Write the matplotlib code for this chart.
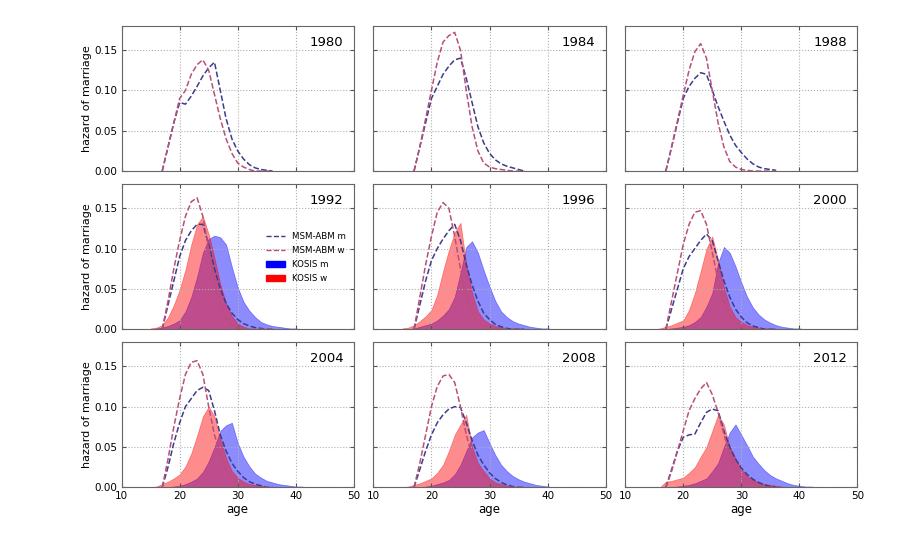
import numpy as np
import matplotlib
matplotlib.use("Agg")
import matplotlib.pyplot as plt
from matplotlib.patches import Patch
from matplotlib.lines import Line2D

years = [1980, 1984, 1988, 1992, 1996, 2000, 2004, 2008, 2012]

# MSM-ABM simulated hazards, ages 17..36
msm_ages = np.arange(17, 37)
msm_m = {
    1980: [0, .03, .06, .085, .083, .093, .105, .118, .128, .135, .1, .065, .04, .025, .015, .008, .004, .002, .001, 0],
    1984: [0, .03, .06, .09, .105, .12, .13, .138, .14, .115, .085, .055, .035, .022, .014, .009, .006, .004, .002, 0],
    1988: [0, .03, .06, .09, .105, .115, .122, .12, .1, .08, .062, .045, .032, .023, .015, .009, .005, .003, .002, .001],
    1992: [0, .03, .06, .09, .11, .122, .13, .13, .105, .075, .05, .032, .02, .012, .007, .004, .002, .001, 0, 0],
    1996: [0, .03, .06, .085, .1, .112, .122, .13, .11, .08, .055, .035, .02, .012, .006, .003, .001, 0, 0, 0],
    2000: [0, .025, .05, .075, .09, .1, .11, .118, .11, .085, .06, .04, .025, .015, .008, .004, .002, 0, 0, 0],
    2004: [0, .025, .055, .08, .1, .11, .12, .124, .12, .095, .065, .045, .03, .02, .012, .007, .004, .002, 0, 0],
    2008: [0, .022, .045, .065, .08, .09, .097, .1, .099, .08, .058, .04, .028, .018, .011, .006, .003, .001, 0, 0],
    2012: [0, .022, .045, .062, .065, .066, .08, .093, .097, .095, .07, .05, .035, .024, .016, .01, .006, .003, .001, 0],
}
msm_w = {
    1980: [0, .03, .06, .09, .1, .12, .132, .138, .125, .095, .065, .04, .022, .01, .005, .002, 0, 0, 0, 0],
    1984: [0, .03, .065, .1, .135, .16, .168, .172, .15, .1, .055, .025, .01, .005, .003, .002, .001, 0, 0, 0],
    1988: [0, .03, .062, .094, .125, .148, .158, .14, .1, .06, .03, .012, .005, .002, .001, 0, 0, 0, 0, 0],
    1992: [0, .035, .075, .11, .14, .158, .163, .14, .1, .06, .03, .012, .005, .002, 0, 0, 0, 0, 0, 0],
    1996: [0, .04, .08, .115, .145, .157, .15, .115, .075, .04, .02, .008, .003, .001, 0, 0, 0, 0, 0, 0],
    2000: [0, .035, .07, .105, .13, .145, .147, .13, .095, .06, .035, .018, .008, .003, .001, 0, 0, 0, 0, 0],
    2004: [0, .035, .075, .11, .14, .155, .157, .14, .1, .065, .04, .022, .012, .006, .003, .001, 0, 0, 0, 0],
    2008: [0, .03, .065, .1, .125, .138, .14, .13, .1, .065, .04, .025, .015, .008, .004, .002, 0, 0, 0, 0],
    2012: [0, .02, .045, .07, .095, .11, .122, .13, .115, .093, .066, .04, .023, .013, .008, .005, .003, .001, 0, 0],
}

# KOSIS observed hazards, ages 15..45 (no data before 1992)
kosis_ages = np.arange(15, 46)
kosis_m = {
    1992: [0, .001, .002, .004, .007, .011, .022, .04, .065, .095, .112, .116, .114, .105, .077, .052, .034, .023, .015, .009, .006, .004, .003, .002, .001, .001, 0, 0, 0, 0, 0],
    1996: [0, 0, .001, .003, .005, .007, .011, .017, .025, .04, .07, .102, .109, .095, .073, .053, .035, .022, .015, .01, .007, .005, .003, .002, .001, .001, 0, 0, 0, 0, 0],
    2000: [0, 0, 0, .001, .002, .003, .005, .009, .015, .028, .045, .082, .102, .095, .078, .058, .04, .027, .018, .012, .008, .005, .003, .002, .001, .001, 0, 0, 0, 0, 0],
    2004: [0, 0, 0, 0, .001, .002, .004, .007, .011, .019, .032, .05, .07, .077, .08, .055, .038, .026, .017, .012, .008, .006, .004, .003, .002, .001, .001, 0, 0, 0, 0],
    2008: [0, 0, 0, 0, .001, .002, .004, .006, .009, .016, .028, .045, .062, .068, .071, .055, .04, .028, .02, .014, .01, .007, .005, .003, .002, .001, 0, 0, 0, 0, 0],
    2012: [0, 0, 0, 0, .001, .002, .003, .005, .008, .011, .02, .03, .05, .068, .078, .065, .052, .038, .029, .021, .015, .011, .008, .005, .003, .002, .001, .001, 0, 0, 0],
}
kosis_w = {
    1992: [.001, .002, .005, .015, .03, .049, .074, .105, .13, .14, .118, .088, .056, .032, .016, .007, .003, .001, 0, 0, 0, 0, 0, 0, 0, 0, 0, 0, 0, 0, 0],
    1996: [.001, .002, .005, .01, .016, .024, .043, .072, .098, .12, .132, .08, .045, .022, .012, .007, .004, .002, .001, 0, 0, 0, 0, 0, 0, 0, 0, 0, 0, 0, 0],
    2000: [0, .001, .003, .005, .008, .011, .024, .045, .072, .1, .115, .085, .052, .028, .015, .009, .005, .003, .002, .001, 0, 0, 0, 0, 0, 0, 0, 0, 0, 0, 0],
    2004: [0, .001, .004, .007, .011, .016, .026, .042, .064, .088, .1, .088, .06, .036, .02, .012, .007, .004, .003, .002, .001, 0, 0, 0, 0, 0, 0, 0, 0, 0, 0],
    2008: [0, .001, .003, .005, .008, .011, .018, .028, .045, .065, .078, .09, .05, .03, .02, .011, .006, .004, .002, .001, 0, 0, 0, 0, 0, 0, 0, 0, 0, 0, 0],
    2012: [0, 0, .007, .008, .01, .012, .018, .025, .038, .05, .07, .09, .078, .05, .036, .022, .014, .009, .006, .004, .003, .002, .001, 0, 0, 0, 0, 0, 0, 0, 0],
}

m_line = '#3c3c8c'
w_line = '#b8507a'

fig, axes = plt.subplots(3, 3, figsize=(9.21, 5.40), dpi=100, sharex=True, sharey=True)
fig.subplots_adjust(left=0.132, right=0.931, bottom=0.0976, top=0.952, wspace=0.084, hspace=0.089)

for ax, yr in zip(axes.flat, years):
    if yr in kosis_m:
        ax.fill_between(kosis_ages, kosis_m[yr], color='blue', alpha=0.45, lw=0.5)
        ax.fill_between(kosis_ages, kosis_w[yr], color='red', alpha=0.45, lw=0.5)
    ax.plot(msm_ages, msm_m[yr], '--', color=m_line, lw=1.1)
    ax.plot(msm_ages, msm_w[yr], '--', color=w_line, lw=1.1)
    ax.text(0.955, 0.885, str(yr), transform=ax.transAxes, ha='right', va='center', fontsize=9.5)
    ax.set_xlim(10, 50)
    ax.set_ylim(0, 0.18)
    ax.set_xticks([10, 20, 30, 40, 50])
    ax.set_yticks([0, 0.05, 0.10, 0.15])
    ax.grid(True, ls=':', color='#b0b0b0', lw=0.8)
    ax.tick_params(direction='in', top=True, right=True, labelsize=7.5, length=3, color='#555555', pad=3)
    for s in ax.spines.values():
        s.set_color('#666666')

for ax in axes[:, 0]:
    ax.set_ylabel('hazard of marriage', fontsize=8, labelpad=2)
    ax.yaxis.set_major_formatter(matplotlib.ticker.FormatStrFormatter('%.2f'))
for ax in axes[2, :]:
    ax.set_xlabel('age', fontsize=8.5, labelpad=1)

handles = [
    Line2D([], [], ls='--', color=m_line, lw=1),
    Line2D([], [], ls='--', color=w_line, lw=1),
    Patch(color='blue'),
    Patch(color='red'),
]
axes[1, 0].legend(handles, ['MSM-ABM m', 'MSM-ABM w', 'KOSIS m', 'KOSIS w'],
                  loc='upper right', bbox_to_anchor=(1.0, 0.72), fontsize=6.2, frameon=False,
                  handlelength=2.2, labelspacing=0.55)

fig.savefig('out.png', dpi=100)
